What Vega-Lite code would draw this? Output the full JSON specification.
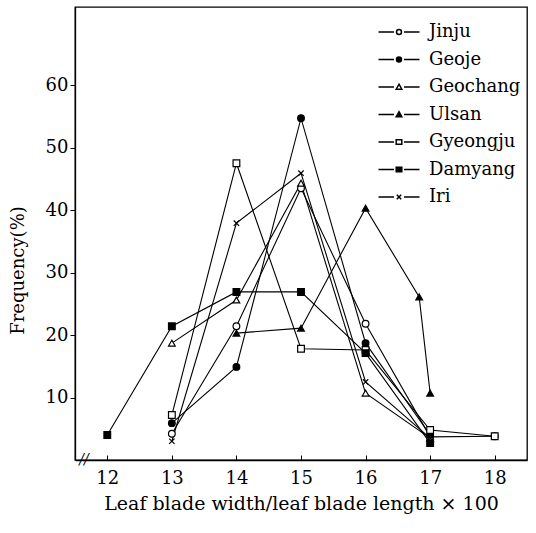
{
  "$schema": "https://vega.github.io/schema/vega-lite/v6.json",
  "width": 452,
  "height": 453,
  "autosize": {"type": "none"},
  "padding": {"left": 75, "top": 7, "right": 9, "bottom": 73},
  "background": "white",
  "config": {
    "view": {"stroke": "black", "strokeWidth": 1.3},
    "font": "DejaVu Serif",
    "axis": {"grid": false, "domainColor": "black", "tickColor": "black", "labelColor": "black", "titleColor": "black", "labelFont": "DejaVu Serif", "titleFont": "DejaVu Serif", "titleFontWeight": "normal", "domainWidth": 1.3}
  },
  "datasets": {
    "freq": [
      {"site": "Jinju", "x": 13, "y": 4.2},
      {"site": "Jinju", "x": 14, "y": 21.4},
      {"site": "Jinju", "x": 15, "y": 43.5},
      {"site": "Jinju", "x": 16, "y": 21.8},
      {"site": "Jinju", "x": 17, "y": 3.7},
      {"site": "Jinju", "x": 18, "y": 3.8},
      {"site": "Geoje", "x": 13, "y": 5.9},
      {"site": "Geoje", "x": 14, "y": 14.9},
      {"site": "Geoje", "x": 15, "y": 54.7},
      {"site": "Geoje", "x": 16, "y": 18.7},
      {"site": "Geoje", "x": 17, "y": 4.0},
      {"site": "Geochang", "x": 13, "y": 18.7},
      {"site": "Geochang", "x": 14, "y": 25.6},
      {"site": "Geochang", "x": 15, "y": 44.3},
      {"site": "Geochang", "x": 16, "y": 10.7},
      {"site": "Geochang", "x": 17, "y": 3.5},
      {"site": "Ulsan", "x": 14, "y": 20.3},
      {"site": "Ulsan", "x": 15, "y": 21.1},
      {"site": "Ulsan", "x": 16, "y": 40.3},
      {"site": "Ulsan", "x": 16.83, "y": 26.1},
      {"site": "Ulsan", "x": 17, "y": 10.7},
      {"site": "Gyeongju", "x": 13, "y": 7.2},
      {"site": "Gyeongju", "x": 14, "y": 47.5},
      {"site": "Gyeongju", "x": 15, "y": 17.8},
      {"site": "Gyeongju", "x": 16, "y": 17.6},
      {"site": "Gyeongju", "x": 17, "y": 4.8},
      {"site": "Gyeongju", "x": 18, "y": 3.8},
      {"site": "Damyang", "x": 12, "y": 4.0},
      {"site": "Damyang", "x": 13, "y": 21.4},
      {"site": "Damyang", "x": 14, "y": 26.9},
      {"site": "Damyang", "x": 15, "y": 26.9},
      {"site": "Damyang", "x": 16, "y": 17.1},
      {"site": "Damyang", "x": 17, "y": 2.7},
      {"site": "Iri", "x": 13, "y": 3.0},
      {"site": "Iri", "x": 14, "y": 37.9},
      {"site": "Iri", "x": 15, "y": 45.9},
      {"site": "Iri", "x": 16, "y": 12.5},
      {"site": "Iri", "x": 17, "y": 3.5}
    ],
    "brk": [{"x": 11.64, "y": 0, "t": "//"}]
  },
  "data": {"name": "freq"},
  "layer": [
    {
      "mark": {"type": "line", "color": "black", "strokeWidth": 1.1},
      "encoding": {
        "x": {"field": "x", "type": "quantitative", "scale": {"domain": [11.5, 18.5], "nice": false, "zero": false},
          "axis": {"values": [12, 13, 14, 15, 16, 17, 18], "format": "d", "labelFontSize": 18, "tickSize": -5, "labelPadding": 14, "title": "Leaf blade width/leaf blade length × 100", "titleFontSize": 19, "titlePadding": 7}},
        "y": {"field": "y", "type": "quantitative", "scale": {"domain": [0, 72.5], "nice": false},
          "axis": {"values": [10, 20, 30, 40, 50, 60], "labelFontSize": 18, "tickSize": 5, "labelPadding": 2, "title": "Frequency(%)", "titleFontSize": 18, "titlePadding": 18, "titleY": 263}},
        "detail": {"field": "site"}
      }
    },
    {
      "mark": {"type": "point", "stroke": "black", "strokeWidth": 1.2, "opacity": 1, "size": 45},
      "encoding": {
        "x": {"field": "x", "type": "quantitative"},
        "y": {"field": "y", "type": "quantitative"},
        "shape": {"field": "site", "legend": null, "scale": {
          "domain": ["Jinju", "Geoje", "Geochang", "Ulsan", "Gyeongju", "Damyang", "Iri"],
          "range": ["circle", "circle", "triangle-up", "triangle-up", "square", "square", "M-0.8,-0.8L0.8,0.8M-0.8,0.8L0.8,-0.8"]}},
        "fill": {"field": "site", "legend": null, "scale": {
          "domain": ["Jinju", "Geoje", "Geochang", "Ulsan", "Gyeongju", "Damyang", "Iri"],
          "range": ["white", "black", "white", "black", "white", "black", "white"]}}
      }
    },
    {
      "transform": [{"filter": "datum.site == 'none'"}],
      "mark": {"type": "point", "stroke": "black", "strokeWidth": 1, "opacity": 1},
      "encoding": {
        "x": {"field": "x", "type": "quantitative"},
        "y": {"field": "y", "type": "quantitative"},
        "shape": {"field": "site", "scale": {
          "domain": ["Jinju", "Geoje", "Geochang", "Ulsan", "Gyeongju", "Damyang", "Iri"],
          "range": [
            "M-2.05,0H-0.5M0.5,0H2.05M0.25,0A0.25,0.25 0 1,1 -0.25,0A0.25,0.25 0 1,1 0.25,0Z",
            "M-2.05,0H-0.5M0.5,0H2.05M0.25,0A0.25,0.25 0 1,1 -0.25,0A0.25,0.25 0 1,1 0.25,0Z",
            "M-2.05,0H-0.5M0.5,0H2.05M0,-0.28L0.28,0.22L-0.28,0.22Z",
            "M-2.05,0H-0.5M0.5,0H2.05M0,-0.28L0.28,0.22L-0.28,0.22Z",
            "M-2.05,0H-0.5M0.5,0H2.05M-0.28,-0.22H0.28V0.22H-0.28Z",
            "M-2.05,0H-0.5M0.5,0H2.05M-0.28,-0.22H0.28V0.22H-0.28Z",
            "M-2.05,0H-0.5M0.5,0H2.05M-0.22,-0.22L0.22,0.22M-0.22,0.22L0.22,-0.22"
          ]},
          "legend": {"title": null, "orient": "none", "legendX": 313, "legendY": 14, "padding": 0, "symbolSize": 400, "labelFontSize": 18, "labelFont": "DejaVu Serif", "labelColor": "black", "labelOffset": 19, "rowPadding": 7.5,
            "encode": {"symbols": {"update": {"stroke": {"value": "black"}, "strokeWidth": {"value": 1.1}, "opacity": {"value": 1}}}}}},
        "fill": {"field": "site", "scale": {
          "domain": ["Jinju", "Geoje", "Geochang", "Ulsan", "Gyeongju", "Damyang", "Iri"],
          "range": ["white", "black", "white", "black", "white", "black", "white"]},
          "legend": {"title": null, "orient": "none", "legendX": 313, "legendY": 14, "padding": 0, "symbolSize": 400, "labelFontSize": 18, "labelFont": "DejaVu Serif", "labelColor": "black", "labelOffset": 19, "rowPadding": 7.5,
            "encode": {"symbols": {"update": {"stroke": {"value": "black"}, "strokeWidth": {"value": 1.1}, "opacity": {"value": 1}}}}}}
      }
    },
    {
      "data": {"name": "brk"},
      "mark": {"type": "text", "fontSize": 14, "color": "black", "baseline": "middle", "align": "center", "fontStyle": "italic"},
      "encoding": {
        "x": {"field": "x", "type": "quantitative"},
        "y": {"field": "y", "type": "quantitative"},
        "text": {"field": "t"}
      }
    }
  ],
  "resolve": {"scale": {"shape": "independent", "fill": "independent"}}
}
